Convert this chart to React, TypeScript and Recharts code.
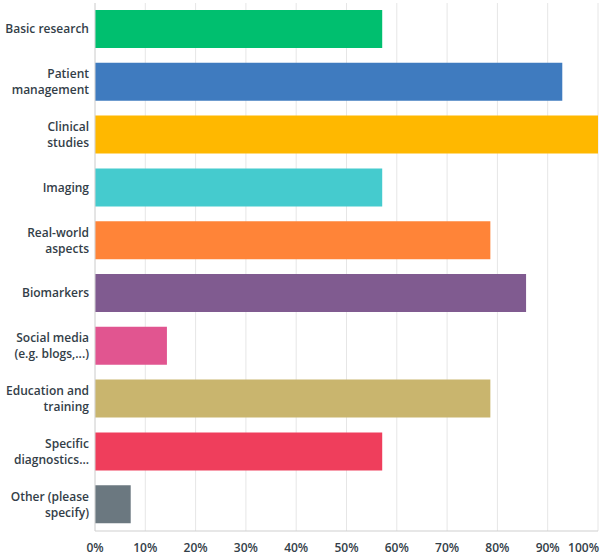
import { Bar, BarChart, CartesianGrid, Cell, XAxis, YAxis } from "recharts"

const categories = [
  "Basic research",
  "Patient\nmanagement",
  "Clinical\nstudies",
  "Imaging",
  "Real-world\naspects",
  "Biomarkers",
  "Social media\n(e.g. blogs,...)",
  "Education and\ntraining",
  "Specific\ndiagnostics...",
  "Other (please\nspecify)",
]

const values = [57.1, 92.9, 100, 57.1, 78.6, 85.7, 14.3, 78.6, 57.1, 7.1]

const COLORS = ["#00bf6f", "#3f7bbf", "#ffb800", "#45cbce", "#ff8438", "#805b90", "#e15590", "#c9b56e", "#ef3e5c", "#6b7880"]

const xTicks = [0, 10, 20, 30, 40, 50, 60, 70, 80, 90, 100]

const data = categories.map((name, i) => ({ name, value: values[i] }))

const FONT = "'Open Sans', sans-serif"
const TEXT = "#333e48"

function CategoryTick({ x, y, payload }: any) {
  const lines = String(payload.value).split("\n")
  const lh = 16
  const start = -((lines.length - 1) * lh) / 2
  return (
    <text x={x} y={y} textAnchor="end" fill={TEXT} fontSize={12} fontWeight={600} fontFamily={FONT}>
      {lines.map((l, i) => (
        <tspan key={i} x={x} dy={i === 0 ? start + 4 : lh}>
          {l}
        </tspan>
      ))}
    </text>
  )
}

function PercentTick({ x, y, payload }: any) {
  const last = payload.value === 100
  return (
    <text
      x={last ? x + 1 : x}
      y={y}
      dy="0.71em"
      textAnchor={last ? "end" : "middle"}
      fill={TEXT}
      fontSize={12}
      fontWeight={600}
      fontFamily={FONT}
    >
      {`${payload.value}%`}
    </text>
  )
}

export default function App() {
  return (
    <div style={{ position: "absolute", left: 0, top: 0, background: "#fff" }}>
      <BarChart
        width={605}
        height={557}
        data={data}
        layout="vertical"
        margin={{ top: 3, right: 7, left: 0, bottom: 0 }}
      >
        <CartesianGrid horizontal={false} stroke="#e6e6e6" />
        <XAxis
          type="number"
          domain={[0, 100]}
          ticks={xTicks}
          axisLine={{ stroke: "#cfcfcf" }}
          tickLine={false}
          tickSize={0}
          tickMargin={12}
          height={26}
          tick={<PercentTick />}
          interval={0}
        />
        <YAxis
          type="category"
          dataKey="name"
          width={95}
          axisLine={{ stroke: "#d6d6d6" }}
          tickLine={false}
          tickSize={0}
          tickMargin={6}
          tick={<CategoryTick />}
          interval={0}
        />
        <Bar dataKey="value" barSize={38} isAnimationActive={false}>
          {data.map((_, i) => (
            <Cell key={`cell-${i}`} fill={COLORS[i % COLORS.length]} />
          ))}
        </Bar>
      </BarChart>
    </div>
  )
}
